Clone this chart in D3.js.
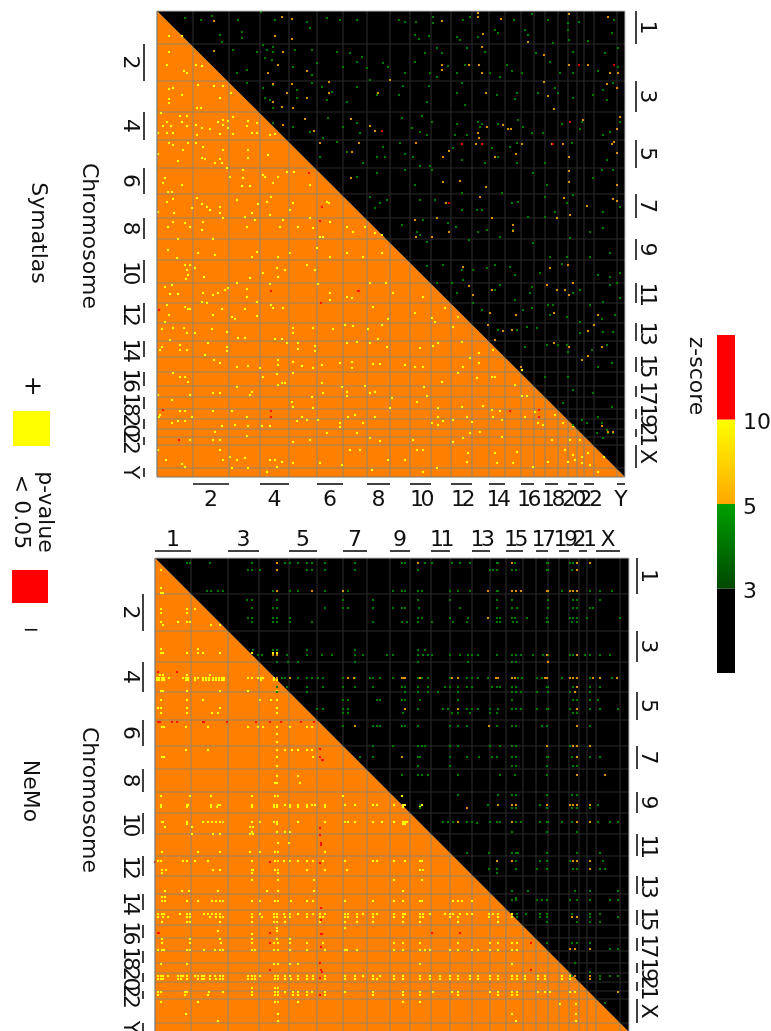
<!DOCTYPE html>
<html>
<head>
<meta charset="utf-8">
<script src="https://cdn.jsdelivr.net/npm/d3@7/dist/d3.min.js"></script>
<style>
html, body { margin: 0; padding: 0; background: #fff; overflow: hidden; }
svg { display: block; filter: blur(0.3px); }
text { font-family: "DejaVu Sans", sans-serif; fill: #111; }
</style>
</head>
<body>
<div id="chart"></div>
<script>
/* CONSTANTS AND DATA (positions are matrix bins) */
const chromosomes = ["1","2","3","4","5","6","7","8","9","10","11","12","13","14","15","16","17","18","19","20","21","22","X","Y"];

const symEdgesX = [0,36,72,103,132,160,186,210,233,253,274,294,315,332,348,364,377,388,401,411,420,427,437,460,468];
const symEdgesY = [0,33,70,101,129,157,183,207,228,249,272,292,312,330,346,361,375,386,398,408,418,426,434,457,466];
const nemoEdgesX = [0,36,73,104,134,162,188,212,235,255,276,295,317,335,351,368,381,393,404,414,424,432,441,465,474];
const nemoEdgesY = [0,36,73,104,134,162,188,211,234,255,276,298,318,336,352,367,380,393,405,415,424,433,441,465,474];

const zBands = ["", "3", "5", "10", " "];
const zColors = [["#000000","#000000"],["#004800","#00a000"],["#ffa800","#ffff00"],["#ff0000","#ff0000"]];

// Symatlas, lower triangle: significant positive
const symYellow = [[12,25],[25,25],[12,41],[10,54],[27,60],[30,62],[39,54],[45,55],[16,77],[12,78],[41,74],[57,75],[66,75],[74,82],[25,84],[12,88],[63,87],[12,92],[40,97],[44,97],
[23,105],[30,105],[4,102],[10,111],[6,115],[14,115],[25,111],[30,115],[39,114],[45,117],[53,118],[61,111],[66,109],[66,114],[71,110],[71,117],[76,106],[91,110],[90,115],[100,112],
[10,122],[16,122],[1,122],[40,124],[63,123],[76,123],[95,122],[100,122],[113,124],[118,123],[12,132],[16,134],[31,132],[39,132],[46,136],[26,139],[66,139],[91,139],[111,144],[1,143],
[45,147],[48,148],[63,148],[21,150],[58,152],[65,152],[91,147],[70,157],[86,159],[106,164],[130,161],[137,161],[8,167],[6,172],[25,174],[11,181],[15,181],[73,166],[86,167],[85,175],[93,175],[116,172],[108,166],[121,166],[153,174],
[16,188],[10,191],[1,201],[17,202],[35,197],[40,187],[45,193],[50,196],[63,196],[63,202],[53,199],[80,189],[88,206],[101,193],[95,202],[110,191],[114,186],[113,204],[136,192],[133,199],[170,191],[172,192],[153,207],
[11,216],[16,211],[28,212],[33,216],[45,219],[46,211],[66,207],[90,216],[98,209],[123,216],[126,209],[141,216],[156,217],[163,226],[166,226],[173,211],[190,216],[196,221],[208,216],[218,222],[225,224],[21,228],[56,228],[11,239],[20,247],[41,242],[58,244],[100,241],[95,246],[121,246],[133,242],[160,237],[173,246],[190,242],[206,246],[225,242],
[28,254],[33,254],[30,259],[31,264],[29,268],[47,266],[38,257],[106,262],[120,257],[128,259],[121,266],[93,267],[150,254],[158,259],[15,274],[8,276],[13,283],[21,283],[46,282],[61,282],[56,284],[68,279],[71,277],[90,278],[80,272],[113,273],[90,286],[45,291],[50,292],[10,294],[31,298],[33,298],[28,296],[12,304],[8,311],[65,298],[56,304],[75,306],[78,308],[88,298],[100,305],[100,291],[114,294],[116,297],[126,297],[161,273],[173,282],[173,289],[190,286],[195,287],[213,272],[229,272],[236,282],[216,296],[231,308],
[5,318],[16,317],[27,317],[30,322],[38,322],[55,318],[70,321],[81,327],[88,327],[136,317],[136,322],[156,317],[176,318],[188,314],[196,315],[211,318],[225,314],[5,336],[3,339],[13,329],[23,334],[23,339],[30,339],[51,332],[70,336],[70,340],[118,328],[125,328],[130,332],[141,332],[141,338],[158,335],[158,340],[190,332],[200,331],[213,332],[221,328],[230,336],
[48,344],[57,349],[63,352],[80,356],[91,355],[103,357],[121,349],[121,354],[136,351],[145,355],[156,357],[165,354],[183,352],[195,351],[195,357],[216,353],[223,353],[16,362],[28,366],[23,366],[31,371],[106,366],[120,363],[136,362],[125,372],[128,372],[121,374],[165,372],[208,375],[185,376],[1,384],
[15,389],[33,384],[63,382],[56,382],[93,384],[95,381],[80,376],[135,391],[155,386],[166,382],[190,381],[190,385],[213,382],[235,387],[218,381],[3,404],[2,406],[23,400],[28,400],[56,400],[75,400],[90,406],[136,396],[145,406],[156,397],[191,406],[198,404],[218,406],[233,397],[35,406],
[15,412],[21,410],[28,410],[65,415],[78,414],[91,415],[105,415],[113,415],[140,410],[150,409],[161,409],[183,412],[183,416],[206,412],[58,421],[56,429],[63,429],[33,429],[90,425],[170,422],[200,422],[213,427],[223,430],[153,429],[136,431],
[1,439],[63,439],[9,449],[25,453],[28,456],[66,449],[73,446],[75,457],[80,449],[88,447],[91,457],[113,449],[118,449],[120,456],[125,451],[110,461],[136,452],[163,452],[193,439],[203,439],[231,449],[215,459],[185,454],
[266,286],[258,302],[275,307],[278,311],[263,337],[248,354],[258,356],[266,356],[276,335],[281,332],[305,331],[296,316],[301,306],[288,297],[313,347],[306,356],[322,342],[322,352],[336,339],[338,366],[335,366],[301,362],[285,371],[267,376],[270,385],[320,367],[365,359],[358,374],[365,385],[370,385],[260,391],[281,397],[305,396],[326,395],[335,399],[343,400],[336,406],[345,409],[281,406],[286,410],[281,414],[275,412],[296,409],[315,411],[310,406],[368,406],[378,401],[381,412],[386,414],[398,404],[406,412],[416,415],
[256,429],[306,427],[313,422],[296,431],[323,421],[345,426],[395,429],[413,429],[423,429],[266,439],[260,439],[311,442],[338,442],[360,441],[408,439],[416,444],[425,446],[431,442],[433,454],[441,461],[447,446],[248,449],[266,461],[280,457],[310,451],[340,452],[356,452],[376,456],[391,451],[411,451],[418,449],[425,452]];

const symRedLower = [[152,162],[165,196],[163,210],[201,280],[202,280],[114,280],[2,299],[164,292],[114,400],[114,406],[6,399],[22,429],[353,400],[382,399],[382,406]];

// Symatlas, upper triangle: z-score dots
const symGreen = [[28,7],[44,9],[55,5],[81,9],[104,1],[118,9],[150,11],[153,17],[170,7],[183,9],[200,9],[63,24],[65,31],[85,21],[85,27],[106,34],[116,36],[116,41],[76,39],[100,41],[108,47],[110,39],[138,39],[155,39],[180,41],[193,42],[205,46],[200,51],[226,52],[90,59],[80,62],[115,49],[136,56],[160,52],[155,64],[186,56],[210,57],[213,69],[231,56],
[106,77],[90,72],[116,74],[155,72],[140,79],[165,76],[175,81],[200,76],[220,84],[108,87],[113,89],[116,97],[140,87],[170,89],[190,91],[136,116],[116,112],[153,121],[171,107],[166,127],[186,116],[200,112],[203,122],[226,136],[180,131],[163,146],[220,146],[190,141],[206,152],[228,146],[200,166],[220,162],[213,186],[223,192],[218,197],[230,189],
[242,9],[248,11],[259,11],[276,6],[276,12],[306,9],[313,6],[357,9],[375,3],[391,9],[411,12],[422,11],[457,9],[258,24],[262,28],[272,25],[300,26],[303,29],[321,26],[338,19],[341,22],[368,19],[371,24],[411,19],[412,29],[431,30],[455,22],[268,42],[280,37],[285,42],[310,37],[328,41],[379,42],[396,32],[393,51],[416,41],[448,42],[461,37],[248,62],[258,51],[273,62],[280,66],[291,55],[300,62],[308,54],[333,62],[343,66],[350,54],[355,60],[365,62],[403,62],[416,62],[441,60],[461,56],
[246,75],[242,84],[270,91],[272,75],[300,82],[305,72],[308,94],[340,84],[360,82],[358,88],[381,82],[398,77],[401,82],[416,87],[446,79],[450,89],[456,72],[436,84],[245,107],[265,105],[275,111],[255,117],[263,121],[270,124],[300,113],[298,124],[310,124],[321,111],[323,116],[325,113],[341,113],[361,109],[366,116],[375,122],[386,122],[405,113],[425,111],[423,118],[446,124],[453,121],[463,111],
[243,132],[248,143],[256,146],[263,155],[273,155],[296,137],[305,149],[335,137],[341,146],[353,136],[360,132],[360,152],[388,152],[415,132],[450,149],[328,152],[248,159],[258,174],[275,159],[263,189],[278,189],[305,182],[305,199],[320,199],[325,199],[345,182],[355,192],[361,191],[376,162],[390,174],[388,186],[398,201],[410,192],[416,184],[436,167],[446,201],[445,159],[456,159],[463,196],
[245,214],[260,221],[263,224],[266,209],[270,231],[291,212],[299,216],[312,229],[321,221],[330,219],[343,226],[356,219],[371,206],[376,232],[388,206],[393,246],[413,227],[433,221],[446,217],[410,246],[433,246],[453,242],
[270,255],[286,254],[305,259],[316,259],[330,257],[338,254],[353,256],[358,264],[383,262],[405,253],[441,264],[453,266],[463,262],[280,272],[295,272],[306,269],[343,274],[338,279],[375,276],[416,282],[423,279],[453,274],[460,272],[300,282],[325,299],[316,292],[358,289],[373,282],[391,294],[396,294],[433,294],[446,291],[463,287],[366,299],[375,297],[393,304],[410,306],[423,311],[445,308],[458,304],[341,319],[360,319],[370,316],[380,317],[423,322],[446,321],[456,321],[368,336],[390,334],[401,334],[410,334],[411,341],[435,339],[450,334],[441,356],[455,352],[388,366],[411,366],[416,379],[406,392],[436,382],[455,396],[425,409],[441,406],[430,412],[450,419],[416,414],[440,422],[446,427],[451,422],[456,422],[445,412]];

const symOrange = [[57,10],[125,6],[135,8],[118,25],[135,28],[57,40],[126,41],[111,62],[150,60],[121,54],[116,73],[135,73],[130,82],[172,71],[172,82],[221,82],[150,87],[116,91],[125,96],[136,97],[148,108],[194,108],[126,114],[213,115],[218,120],[157,120],[163,132],[195,141],[202,132],[194,167],[233,69],
[285,10],[321,2],[321,6],[344,8],[412,3],[451,6],[326,23],[371,31],[325,36],[285,54],[285,59],[312,54],[322,54],[325,62],[387,44],[412,54],[431,54],[453,62],[461,62],[387,71],[391,85],[329,82],[397,98],[450,73],[460,77],[346,114],[351,118],[354,118],[330,116],[321,122],[322,127],[426,109],[463,106],[460,118],[365,133],[259,132],[319,133],[395,133],[406,133],[455,133],[457,131],[286,146],[292,140],[338,146],[359,143],[412,146],[460,142],[412,160],[286,171],[303,170],[329,176],[412,171],[460,174],[289,192],[323,186],[407,187],[430,195],[456,188],[460,190],[258,209],[280,207],[335,207],[400,207],[413,204],[292,221],[356,214],[356,220],[259,226],[275,226],
[306,256],[312,275],[316,284],[335,279],[393,257],[411,254],[390,274],[400,279],[412,284],[416,272],[408,279],[333,302],[359,304],[397,302],[441,304],[331,314],[346,320],[355,319],[338,329],[397,332],[412,336],[431,320],[437,314],[445,336],[425,349],[431,345],[364,356],[445,415],[451,421],[456,421]];

const symRedUpper = [[225,120],[422,54],[457,54],[413,111],[305,133],[325,133],[396,133],[292,192]];

// NeMo, lower triangle: [row, columns in that row]
const nemoYellowRows = [
[12,[6]],[30,[6]],[35,[6,8]],[51,[6,32,40]],[55,[6,32]],[64,[6,23,32,35]],[67,[8,56,65]],
[91,[6,43]],[95,[6,8,32,43,48,65,97,118,122]],[117,[5,8,32,55]],
[120,[2,4,7,9,14,28,31,33,40,43,48,51,54,58,61,64,67,69,93,97,103,106,108,119,122]],
[122,[2,4,7,9,31,33,40,48,51,54,58,61,64,67,69,106,119,122]],
[133,[6,8,32,65,93,122]],[142,[6,32,48,105,116,122]],[150,[3,6,32,65,122]],[155,[6,32,57,63,122]],
[169,[7,9,31,53,93,103,108,122,135,152,157]],[176,[122]],[184,[122]],
[192,[31,53,122,130,137,143,152,157]],[199,[7,9,122,158]],[208,[122]],[218,[122,143]],[225,[120,122,145]],
[238,[6,35,56,97,120,123,188,247]],
[247,[6,32,33,56,63,65,97,119,122,130,135,143,152,157,160,170,190,200,218,222,239,248,250,265,267]],
[249,[6,32,56,62,97,119,122,135,143,152,170,248,265]],
[264,[7,8,32,48,53,57,61,65,68,97,105,119,122,143,170,190,193,200,218,227,239,248,250,252]],
[266,[32,122,248,250]],[269,[10,37,95,98]],[274,[97,122,130,135]],[276,[37,58,65,95,98]],
[285,[123,134]],[294,[7,43,65,95,105,120,123,170]],
[303,[3,6,28,32,40,53,97,120,123,129,135,143,152,158,168,190,218,222,239,250,265,267]],
[312,[7,11,58,65,97,98,120,123,152,170,192,265,268]],[315,[7,97,123]],[322,[97,123,159,239,267]],
[333,[10,27,34,63,112,123,159,248]],[339,[10,7]],
[343,[7,10,32,43,57,61,65,68,97,105,120,123,136,152,158,190,218,239,248,265,267,298,303,307,317]],
[356,[3,7,9,25,32,35,49,53,57,61,65,97,105,119,122,129,135,143,152,158,165,170,190,193,202,208,218,222,239,248,250,265,268,275,290,295,298,305,312,317,334,338,343,357]],
[359,[3,8,13,32,35,55,61,65,68,97,107,119,122,130,135,152,165,168,190,193,202,218,239,248,265,268,295,303,334,343,357]],
[364,[7,32,35,65,97,119,122,130,165,190,202,218,248,265,303,343]],
[370,[122,190]],[373,[63,122]],[376,[97]],[381,[7,35,65,97,122,135]],
[385,[7,35,66,97,119,123,135,152,168,239,248,265,303,335,343,357,362]],
[392,[3,7,9,32,35,49,60,65,68,97,100,119,123,135,152,170,190,192,202,239,248,265,270,275,295,303,317,323,335,343,357,362]],
[406,[6,32,119,123,135,143,265,357]],
[418,[3,6,8,13,23,26,28,32,40,43,47,49,55,60,65,68,93,97,100,105,120,123,130,135,143,152,158,170,190,200,208,218,225,239,248,265,275,285,295,303,315,323,335,343,357,362,370,383,390,407,415]],
[421,[3,6,8,23,26,32,43,47,49,55,61,65,68,93,97,100,120,123,130,136,143,152,158,170,190,200,218,222,239,248,265,275,285,295,303,315,323,335,343,357,362,370,383,390,407,415]],
[430,[97,120,123]],
[434,[3,6,30,32,54,68,97,120,123,130,138,143,152,157,170,190,218,248,265,278,297,303,335,343,357,362,383,390,395,415,420]],
[437,[3,30,53,97,120,123,138,143,152,170,218,248,265,303,343,357,362]],
[444,[6,43,120,123,143,248,265]],[446,[421,405]],[456,[31,123,357,421]],[463,[63,123,361,421]]
];

const nemoRed = [[3,114],[22,114],[3,164],[4,164],[5,164],[17,164],[22,164],[48,164],[49,164],[72,164],[101,164],[115,164],[126,164],[146,164],[159,164],[165,191],[167,202],[165,199],[168,202],
[165,270],[165,277],[166,285],[166,287],[165,305],[115,304],[0,304],[166,350],[166,362],[3,375],[4,375],[115,375],[166,376],[167,376],[115,385],[166,389],[165,405],[115,412],[166,412],[167,414],[165,420],[165,437],[277,375],[305,375],[376,385],[376,412]];

// NeMo, upper triangle: [row, columns in that row]
const nemoGreenRows = [
[5,[32,35,55,97,122,130,135,143,152,157,170,200,247,250,263,270,277,297,305,315,342,343,360,392,393,415,418]],
[12,[93,97,105,122,152,157,170,200,263,335,338,342,357,361,392,393,417]],
[33,[52,56,63,68,118,135,143,157,170,188,193,238,247,250,263,267,295,303,315,342,343,407,415,435,445,457]],
[42,[92,97,122,188,218,263,295,342,357,393,418,422,445]],
[50,[118,122,97,170,188,193,218,238,247,250,264,305,342,357,362,393,418,422,435,438]],
[60,[93,97,118,122,135,263,267,295,313,342,345,357,360,372,392,415,418,422,432,465]],
[64,[97,118,122,135,157,218,247,252,263,277,298,312,342,345,358,362,392,393,417,422]],
[92,[98,118,122,152,200,263,270]],
[97,[103,107,122,132,152,167,177,200,208,232,238,263,268,273,277,295,305,313,317,323,342,357,361,366,378,388,392,393,415,418,430,435,445,455]],
[104,[122,133,143,200,263,313,357,361,393]],
[120,[127,130,143,152,157,163,168,188,193,200,215,218,225,238,263,267,273,295,303,312,317,323,333,363,367,382,387,407,435,457]],
[129,[122,132,152,168,188,200,218,247,250,263,273,290,295,303,312,317,337,342,345,357,361,392,393,418,435,445]],
[134,[152,122,250,263,273,283,303,357,361,366,382,393,415,435]],
[142,[188,193,225,222,247,250,265,303,357,443,435,418,422]],
[151,[162,168,188,193,263,288,293,312,317,323,335,343,357,361,366,382,392,393,415,435,445,463]],
[155,[188,193,248,297,303,315,335,342,418,422]],
[168,[188,218,222,225,247,250,263,295,303,312,342,357,361,387,392,435]],
[188,[218,238,263,267,270,295,303,335,345,357,361,415,418]],
[199,[218,205,263,265,295,312,324,337,342,357,361,392,393,417,435,445]],
[208,[263,295,357,361,392,418,422]],
[217,[247,263,267,273,303,345,360,392]],
[237,[303,343,357,361,392,417,422]],
[247,[265,333,385,392,415,418,443]],[250,[265,357,361,392,417,422,435]],
[264,[288,293,298,312,317,335,342,345,361,366,385,392,393,407,417,435,443,455,463]],[265,[322]],
[274,[357,392,422]],[295,[312,334,357,361,363,392,422,445]],
[303,[357,361,385,392,415,418,448]],[311,[334,342,361,382,392,418,422,445,450]],[315,[342]],
[333,[357,373,420,435,463]],[340,[361]],
[342,[357,361,382,387,392,415,422,435,455,463]],
[356,[362,371,385,392,417,435,445]],[359,[362,385,392,435,463]],[364,[392,422,435,445]],
[385,[392,417,422,435]],[391,[455,463]],[405,[420]],[414,[435]],[418,[417,445,455,463]],[421,[445]],[445,[450]]
];

const nemoOrangeRows = [
[5,[122,263,357,422,435]],[12,[122,422]],
[33,[122,157,188,333,357,361,366,392,393,415,418,422]],
[60,[333]],[97,[118,122,392,422]],[104,[393]],
[120,[122,135,193,199,247,248,250,265,297,303,341,343,357,360,390,392,415,418,422,438,445,462]],
[129,[422]],[134,[420]],[151,[250,303,422]],[168,[200,334,422]],[188,[392,418,422,435]],[199,[247,422]],[217,[422,450]],
[247,[343,357,361,392,415,418,422,435]],[250,[312]],[264,[303,357,422,435]],[303,[342,357,418,422,435]],
[311,[435]],[359,[417,422]],[391,[415,420,435]],[418,[420,435]],[421,[420,435]],[434,[463]]
];

/* SETUP */
const width = 771, height = 1031;
const svg = d3.select("#chart").append("svg").attr("width", width).attr("height", height);
const defs = svg.append("defs");

const tickSize = 22;

function drawPanel(id, cfg) {
  const x = d3.scaleLinear().domain([0, d3.max(cfg.edgesX)]).range(cfg.rangeX);
  const y = d3.scaleLinear().domain([0, d3.max(cfg.edgesY)]).range(cfg.rangeY);
  const maxX = x.domain()[1], maxY = y.domain()[1];
  const poly = d3.line().x(d => x(d[0])).y(d => y(d[1]));
  const lowerTri = [[0,0],[0,maxY],[maxX,maxY]];
  const upperTri = [[0,0],[maxX,0],[maxX,maxY]];

  defs.append("clipPath").attr("id", id + "-lower").append("path").attr("d", poly(lowerTri) + "Z");
  defs.append("clipPath").attr("id", id + "-upper").append("path").attr("d", poly(upperTri) + "Z");

  const g = svg.append("g");

  g.append("path").attr("d", poly(lowerTri) + "Z").attr("fill", "#ff8000");
  g.append("path").attr("d", poly(upperTri) + "Z").attr("fill", "#000");

  // chromosome grid, grey over the orange half and faint over the black one
  function grid(clip, color) {
    const gg = g.append("g").attr("clip-path", `url(#${id}-${clip})`)
      .attr("stroke", color).attr("stroke-width", 1.1);
    gg.selectAll("line.v").data(cfg.edgesX.slice(1, -1)).join("line").attr("class", "v")
      .attr("x1", d => x(d)).attr("x2", d => x(d))
      .attr("y1", y(0)).attr("y2", y(maxY));
    gg.selectAll("line.h").data(cfg.edgesY.slice(1, -1)).join("line").attr("class", "h")
      .attr("x1", x(0)).attr("x2", x(maxX))
      .attr("y1", d => y(d)).attr("y2", d => y(d));
  }
  grid("lower", "#958669");
  grid("upper", "#2b2b2b");

  // the dots
  const dotW = cfg.dot, dotH = cfg.dot;
  function dots(data, color) {
    g.append("g").selectAll("rect").data(data).join("rect")
      .attr("x", d => x(d[0]) - dotW / 2)
      .attr("y", d => y(d[1]) - dotH / 2)
      .attr("width", dotW)
      .attr("height", dotH)
      .attr("fill", color);
  }
  cfg.series.forEach(s => dots(s.data, s.color));

  // frame
  g.append("line").attr("x1", x(0)).attr("x2", x(maxX)).attr("y1", y(0)).attr("y2", y(0)).attr("stroke", "#bbb");
  g.append("line").attr("x1", x(maxX)).attr("x2", x(maxX)).attr("y1", y(0)).attr("y2", y(maxY)).attr("stroke", "#bbb");
  g.append("line").attr("x1", x(0)).attr("x2", x(0)).attr("y1", y(0)).attr("y2", y(maxY)).attr("stroke", "#777").attr("stroke-width", 1.2);
  g.append("line").attr("x1", x(0)).attr("x2", x(maxX)).attr("y1", y(maxY)).attr("y2", y(maxY)).attr("stroke", "#777");

  // chromosome labels with their span bars
  chromosomes.forEach((c, i) => {
    const odd = i % 2 === 0;
    const cx = (x(cfg.edgesX[i]) + x(cfg.edgesX[i + 1])) / 2;
    const cy = (y(cfg.edgesY[i]) + y(cfg.edgesY[i + 1])) / 2;
    const side = odd ? "right" : "left";
    const barX = cfg[side].bar, textX = cfg[side].text;
    g.append("line").attr("x1", barX).attr("x2", barX)
      .attr("y1", y(cfg.edgesY[i])).attr("y2", y(cfg.edgesY[i + 1]))
      .attr("stroke", "#111").attr("stroke-width", 1.6);
    tickText(g, c, textX, cy, true);
    if (odd === cfg.xOdd) {
      g.append("line").attr("x1", x(cfg.edgesX[i])).attr("x2", x(cfg.edgesX[i + 1]))
        .attr("y1", cfg.xBar).attr("y2", cfg.xBar)
        .attr("stroke", "#111").attr("stroke-width", 1.6);
      tickText(g, c, cx, cfg.xText, false);
    }
  });
}

function tickText(g, str, px, py, rotated) {
  const t = g.append("text").text(str)
    .attr("text-anchor", "middle")
    .attr("dominant-baseline", "central")
    .attr("font-size", tickSize)
    .attr("letter-spacing", str.length > 1 ? -3.6 : 0);
  t.attr("transform", rotated ? `translate(${px},${py}) rotate(90)` : `translate(${px},${py})`);
}

function label(str, px, py, rotated, size) {
  svg.append("text").text(str)
    .attr("text-anchor", "middle")
    .attr("dominant-baseline", "central")
    .attr("font-size", size || 22)
    .attr("transform", rotated ? `translate(${px},${py}) rotate(90)` : `translate(${px},${py})`);
}

const rowsToPoints = rows => rows.flatMap(r => r[1].map(c => [c, r[0]]));

drawPanel("sym", {
  edgesX: symEdgesX, edgesY: symEdgesY,
  rangeX: [157, 625], rangeY: [11, 477],
  dot: 2.1,
  series: [
    { data: symYellow, color: "#ffff00" },
    { data: symRedLower, color: "#ff1400" },
    { data: symGreen, color: "#007a00" },
    { data: symOrange, color: "#d99000" },
    { data: symRedUpper, color: "#d00000" }
  ],
  right: { bar: 636, text: 648 },
  left: { bar: 144, text: 131 },
  xOdd: false, xBar: 484, xText: 498
});

drawPanel("nemo", {
  edgesX: nemoEdgesX, edgesY: nemoEdgesY,
  rangeX: [155, 629], rangeY: [558, 1032],
  dot: 2.1,
  series: [
    { data: rowsToPoints(nemoYellowRows), color: "#ffff00" },
    { data: nemoRed, color: "#ff1400" },
    { data: rowsToPoints(nemoGreenRows), color: "#007a00" },
    { data: rowsToPoints(nemoOrangeRows), color: "#d99000" }
  ],
  right: { bar: 637, text: 649 },
  left: { bar: 143, text: 131 },
  xOdd: true, xBar: 551, xText: 538
});

/* TITLES AND LEGEND */
label("Chromosome", 90, 236, true);
label("Chromosome", 90, 800, true);
label("Symatlas", 39, 233, true);
label("NeMo", 31, 791, true);

label("+", 33, 386, false, 24);
label("\u2212", 31, 629, false, 20);
label("p-value", 46, 512, true);
label("< 0.05", 22, 512, true);

const legendSwatches = [
  { x0: 13, x1: 50, y0: 411, y1: 446, color: "#ffff00" },
  { x0: 12, x1: 48, y0: 570, y1: 603, color: "#ff0000" }
];
svg.append("g").selectAll("rect").data(legendSwatches).join("rect")
  .attr("x", d => d.x0).attr("y", d => d.y0)
  .attr("width", d => d.x1 - d.x0).attr("height", d => d.y1 - d.y0)
  .attr("fill", d => d.color);

// colour bar
const zPos = d3.scalePoint().domain(zBands).range([673, 335]);
const barG = svg.append("g");
zColors.forEach((c, i) => {
  const gid = "zgrad" + i;
  const grad = defs.append("linearGradient").attr("id", gid)
    .attr("x1", 0).attr("x2", 0).attr("y1", 1).attr("y2", 0);
  grad.append("stop").attr("offset", 0).attr("stop-color", c[0]);
  grad.append("stop").attr("offset", 1).attr("stop-color", c[1]);
  barG.append("rect")
    .attr("x", 717).attr("width", 18)
    .attr("y", zPos(zBands[i + 1]))
    .attr("height", zPos(zBands[i]) - zPos(zBands[i + 1]))
    .attr("fill", `url(#${gid})`);
});
["3", "5", "10"].forEach(t => {
  svg.append("text").text(t)
    .attr("x", 743).attr("y", zPos(t) + 2)
    .attr("dominant-baseline", "central")
    .attr("font-size", 22);
});
label("z-score", 697, 376, true);
</script>
</body>
</html>
